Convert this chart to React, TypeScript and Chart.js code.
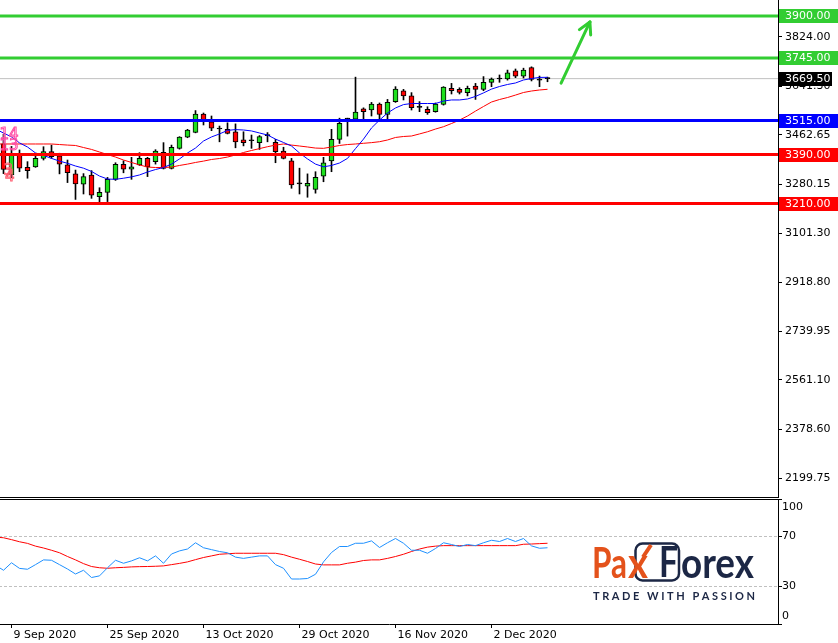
import React, { useEffect, useRef } from "react";
import { Chart, registerables } from "chart.js";

Chart.register(...registerables);

const FONT = "DejaVu Sans";

// ---------- data ----------
const dates = [
  "7 Sep 2020", "8 Sep 2020", "9 Sep 2020", "10 Sep 2020", "11 Sep 2020", "14 Sep 2020", "15 Sep 2020", "16 Sep 2020", "17 Sep 2020", "18 Sep 2020",
  "21 Sep 2020", "22 Sep 2020", "23 Sep 2020", "24 Sep 2020", "25 Sep 2020", "28 Sep 2020", "29 Sep 2020", "30 Sep 2020",
  "1 Oct 2020", "2 Oct 2020", "5 Oct 2020", "6 Oct 2020", "7 Oct 2020", "8 Oct 2020", "9 Oct 2020", "12 Oct 2020", "13 Oct 2020", "14 Oct 2020",
  "15 Oct 2020", "16 Oct 2020", "19 Oct 2020", "20 Oct 2020", "21 Oct 2020", "22 Oct 2020", "23 Oct 2020", "26 Oct 2020", "27 Oct 2020", "28 Oct 2020",
  "29 Oct 2020", "30 Oct 2020",
  "2 Nov 2020", "3 Nov 2020", "4 Nov 2020", "5 Nov 2020", "6 Nov 2020", "9 Nov 2020", "10 Nov 2020", "11 Nov 2020", "12 Nov 2020", "13 Nov 2020",
  "16 Nov 2020", "17 Nov 2020", "18 Nov 2020", "19 Nov 2020", "20 Nov 2020", "23 Nov 2020", "24 Nov 2020", "25 Nov 2020", "26 Nov 2020", "27 Nov 2020",
  "30 Nov 2020",
  "1 Dec 2020", "2 Dec 2020", "3 Dec 2020", "4 Dec 2020", "7 Dec 2020", "8 Dec 2020", "9 Dec 2020", "10 Dec 2020", "11 Dec 2020",
];

const opens = [
  3455, 3430, 3315, 3395, 3343, 3345, 3376, 3401, 3385, 3352,
  3319, 3281, 3315, 3235, 3251, 3299, 3354, 3336, 3352, 3376,
  3364, 3398, 3339, 3413, 3454, 3472, 3539, 3511, 3484, 3483,
  3474, 3444, 3441, 3434, 3460, 3435, 3403, 3367, 3282, 3274,
  3262, 3311, 3367, 3446, 3521, 3520, 3558, 3554, 3576, 3538,
  3585, 3625, 3606, 3564, 3557, 3548, 3575, 3634, 3630, 3618,
  3642, 3630, 3656, 3668, 3668, 3698, 3679, 3710, 3664, 3669.5,
];
const highs = [
  3480, 3465, 3420, 3407, 3364, 3395, 3419, 3425, 3395, 3370,
  3333, 3320, 3331, 3268, 3306, 3360, 3367, 3380, 3397, 3380,
  3408, 3434, 3425, 3456, 3483, 3552, 3543, 3532, 3495, 3507,
  3503, 3474, 3462, 3460, 3471, 3446, 3417, 3376, 3340, 3319,
  3327, 3380, 3483, 3524, 3524, 3675, 3562, 3582, 3580, 3593,
  3640, 3630, 3618, 3585, 3566, 3580, 3640, 3652, 3636, 3642,
  3652, 3677, 3672, 3683, 3701, 3705, 3708, 3713, 3679, 3675,
];
const lows = [
  3350, 3320, 3305, 3327, 3303, 3343, 3370, 3376, 3319, 3287,
  3225, 3245, 3229, 3211, 3217, 3295, 3323, 3299, 3350, 3309,
  3355, 3337, 3337, 3410, 3452, 3470, 3499, 3478, 3437, 3466,
  3415, 3422, 3413, 3409, 3437, 3360, 3374, 3266, 3245, 3233,
  3248, 3290, 3327, 3431, 3458, 3518, 3520, 3532, 3517, 3520,
  3582, 3591, 3554, 3548, 3538, 3546, 3572, 3613, 3613, 3606,
  3593, 3625, 3640, 3656, 3664, 3673, 3672, 3661, 3640, 3658,
];
const closes = [
  3430, 3335, 3395, 3340, 3331, 3376, 3401, 3382, 3355, 3323,
  3282, 3309, 3241, 3251, 3299, 3354, 3336, 3345, 3376, 3345,
  3403, 3339, 3417, 3454, 3480, 3539, 3517, 3487, 3484, 3468,
  3437, 3434, 3441, 3456, 3460, 3401, 3376, 3278, 3282, 3284,
  3306, 3360, 3446, 3505, 3521, 3546, 3548, 3576, 3538, 3582,
  3631, 3606, 3563, 3564, 3544, 3576, 3638, 3625, 3619, 3634,
  3630, 3656, 3668, 3668, 3691, 3679, 3701, 3667, 3664, 3669.5,
];

const maFast = [
  3484, 3469.5, 3455, 3433, 3418, 3396, 3387, 3376, 3366, 3358,
  3348, 3340, 3328, 3311, 3300, 3299, 3303, 3308, 3315, 3326,
  3335, 3342.5, 3355, 3374, 3396, 3414, 3440, 3455, 3466, 3479,
  3482, 3480.5, 3477, 3469.5, 3462, 3447, 3434.5, 3421.6, 3396, 3374,
  3355, 3345, 3350, 3359, 3376, 3412, 3447, 3488, 3517, 3543,
  3561.5, 3574, 3578, 3578, 3578, 3578, 3587, 3591, 3591, 3594.6,
  3604, 3617, 3631, 3640.6, 3648, 3653.5, 3664.5, 3670, 3674, 3674.4,
];
const maSlow = [
  3429, 3429, 3429, 3429, 3429, 3429, 3429, 3429, 3427, 3425,
  3423.5, 3416, 3409, 3399.5, 3390, 3381, 3370, 3361, 3352, 3344,
  3342.5, 3342.5, 3344, 3350, 3355, 3361, 3366, 3372, 3375.6, 3381,
  3388.5, 3397.7, 3405, 3412, 3419, 3425, 3429, 3425, 3421.6, 3418,
  3414, 3413, 3418, 3423.5, 3427, 3429, 3431.6, 3434, 3437.4, 3443.7,
  3453, 3456.6, 3458.4, 3466, 3474, 3484, 3492.6, 3504.4, 3517, 3532,
  3550, 3567, 3583.5, 3592.7, 3600, 3609, 3618.5, 3624, 3627.7, 3630.3,
];

const oscMain = [
  47, 43, 49, 44.5, 43.8, 47.5, 51.3, 51, 47.5, 44,
  40, 43, 37.2, 38.5, 45, 51, 48.6, 50.5, 53, 50.5,
  54.5, 48.6, 56, 58.5, 60, 65, 61, 59.5, 58, 57,
  53.5, 52.5, 53.5, 54.5, 54.5, 47.5, 44.6, 36, 36, 36.4,
  39.8, 49.7, 57.2, 62, 62, 64.6, 64.6, 66.5, 61.2, 65,
  68.4, 64.6, 59, 59, 56.6, 60.4, 65, 63.6, 62, 63.6,
  62.7, 65, 67, 66, 68.4, 66, 68.4, 62.5, 60.6, 61,
];
const oscSignal = [
  69.5, 69, 67.5, 65.8, 64.5, 62.3, 60.8, 59, 57, 54,
  51.3, 48.3, 46, 45, 44.6, 45, 45.3, 45.7, 45.9, 46,
  46.2, 46.5, 47.5, 48.5, 49.7, 51.5, 53.2, 54.5, 55.8, 56.2,
  56.6, 56.6, 56.6, 56.6, 56.6, 56.6, 55.5, 53.5, 51.8, 50,
  48, 47.3, 47.3, 47.3, 48.6, 49.5, 50.8, 51.3, 51.3, 52.5,
  54, 55.8, 58, 60, 61.5, 62.3, 62.7, 62.7, 62.7, 62.7,
  62.7, 62.7, 62.7, 62.7, 62.7, 62.7, 63.8, 64, 64.3, 64.6,
];

const priceTicks = [3824.0, 3641.3, 3462.65, 3280.15, 3101.3, 2918.8, 2739.95, 2561.1, 2378.6, 2199.75];
const levelPrices = [3900, 3745, 3515, 3390, 3210];
const levelColors = ["#32cd32", "#32cd32", "#0000ff", "#ff0000", "#ff0000"];
const bidPrice = 3669.5;
const dateTickLabels = ["9 Sep 2020", "25 Sep 2020", "13 Oct 2020", "29 Oct 2020", "16 Nov 2020", "2 Dec 2020"];
const oscTicks = [100, 70, 30, 0];
const oscLevels = [70, 30];
const arrowIdx = [70.7, 74.3];
const arrowPrice = [3653, 3878];
const annoTexts = ["14", "13", "3", "4"];
const annoIdx = [0.5, 0.5, 1.0, 1.2];
const annoPrice = [3490, 3448, 3356, 3334];

// ---------- layout constants ----------
const X_MIN = 0.5625;
const X_MAX = 97.8125;
const Y_MIN = 2126.24;
const Y_MAX = 3958.88;
const UP = "#1ee01e";
const DOWN = "#ff0000";
const ARROW = "#32cd32";
const LOWER_TOP = 498;

const idx = dates.map((_, i) => i);
const hline = (v: number) => [{ x: X_MIN - 2, y: v }, { x: X_MAX + 2, y: v }];

function fitText(ctx: CanvasRenderingContext2D, text: string, x: number, y: number, w: number, font: string, color: string) {
  ctx.save();
  ctx.font = font;
  const m = ctx.measureText(text).width;
  ctx.translate(x, y);
  ctx.scale(w / m, 1);
  ctx.fillStyle = color;
  ctx.textBaseline = "alphabetic";
  ctx.textAlign = "left";
  ctx.fillText(text, 0, 0);
  ctx.restore();
}

function spacedText(ctx: CanvasRenderingContext2D, text: string, x: number, y: number, w: number, font: string, color: string) {
  ctx.save();
  ctx.font = font;
  ctx.fillStyle = color;
  ctx.textBaseline = "alphabetic";
  ctx.textAlign = "left";
  const chars = text.split("");
  const widths = chars.map((c) => ctx.measureText(c).width);
  const total = widths.reduce((a, b) => a + b, 0);
  const gap = (w - total) / (chars.length - 1);
  let cx = x;
  chars.forEach((c, i) => {
    ctx.fillText(c, cx, y);
    cx += widths[i] + gap;
  });
  ctx.restore();
}

const topDecor = {
  id: "topDecor",
  afterDraw(chart: any) {
    const { ctx, chartArea, scales } = chart;
    const xs = scales.x;
    const ys = scales.y;
    ctx.save();
    // panel bottom frame
    ctx.strokeStyle = "#000";
    ctx.lineWidth = 1;
    ctx.beginPath();
    ctx.moveTo(0, chartArea.bottom - 0.5);
    ctx.lineTo(chartArea.right, chartArea.bottom - 0.5);
    ctx.stroke();

    // clipped wave labels at the left edge
    ctx.save();
    ctx.beginPath();
    ctx.rect(chartArea.left, chartArea.top, chartArea.right - chartArea.left, chartArea.bottom - chartArea.top);
    ctx.clip();
    ctx.font = `15px ${FONT}`;
    ctx.textBaseline = "top";
    ctx.textAlign = "left";
    ctx.lineWidth = 1;
    annoTexts.forEach((t, i) => {
      ctx.strokeStyle = i < 2 ? "#ff4da6" : "#ff5a6e";
      ctx.strokeText(t, xs.getPixelForValue(annoIdx[i]), ys.getPixelForValue(annoPrice[i]));
    });
    ctx.restore();

    // arrow head
    const x1 = xs.getPixelForValue(arrowIdx[0]);
    const y1 = ys.getPixelForValue(arrowPrice[0]);
    const x2 = xs.getPixelForValue(arrowIdx[1]);
    const y2 = ys.getPixelForValue(arrowPrice[1]);
    const ang = Math.atan2(y2 - y1, x2 - x1);
    ctx.strokeStyle = ARROW;
    ctx.lineWidth = 3;
    ctx.lineCap = "round";
    [-0.5, 0.5].forEach((d) => {
      ctx.beginPath();
      ctx.moveTo(x2, y2);
      ctx.lineTo(x2 - 13 * Math.cos(ang + d), y2 - 13 * Math.sin(ang + d));
      ctx.stroke();
    });

    // price boxes on the axis
    ctx.font = `11px ${FONT}`;
    ctx.textBaseline = "middle";
    ctx.textAlign = "left";
    levelPrices.forEach((p, i) => {
      const y = Math.round(ys.getPixelForValue(p));
      ctx.fillStyle = levelColors[i];
      ctx.fillRect(chartArea.right + 1, y - 7, 60, 14);
      ctx.fillStyle = "#fff";
      ctx.fillText(p.toFixed(2), chartArea.right + 7, y + 0.5);
    });
    const yb = Math.round(ys.getPixelForValue(bidPrice));
    ctx.fillStyle = "#000";
    ctx.fillRect(chartArea.right + 1, yb - 7, 53, 14);
    ctx.fillStyle = "#fff";
    ctx.fillText(bidPrice.toFixed(2), chartArea.right + 7, yb + 0.5);
    ctx.restore();
  },
};

const bottomDecor = {
  id: "bottomDecor",
  afterDraw(chart: any) {
    const { ctx, chartArea, scales } = chart;
    const ys = scales.y;
    ctx.save();
    ctx.strokeStyle = "#000";
    ctx.lineWidth = 1;
    ctx.beginPath();
    ctx.moveTo(0, chartArea.top + 0.5);
    ctx.lineTo(chartArea.right, chartArea.top + 0.5);
    ctx.stroke();

    // axis labels
    ctx.font = `11px ${FONT}`;
    ctx.fillStyle = "#000";
    ctx.textBaseline = "middle";
    ctx.textAlign = "left";
    oscTicks.forEach((v) => {
      let y = ys.getPixelForValue(v);
      if (v === 100) y += 8.5;
      if (v === 0) y -= 8;
      ctx.fillText(String(v), chartArea.right + 4, y);
    });

    // logo (page coordinates)
    ctx.translate(0, -LOWER_TOP);
    const ORANGE = "#e4521b";
    const NAVY = "#1c2745";
    const big = "bold 42px Lato";
    ctx.strokeStyle = NAVY;
    ctx.lineWidth = 2.5;
    ctx.beginPath();
    ctx.roundRect(635.5, 543.5, 43.5, 37, 7);
    ctx.stroke();
    fitText(ctx, "Pa", 592, 578, 35, big, ORANGE);
    fitText(ctx, "x", 628, 578, 20, big, ORANGE);
    ctx.strokeStyle = ORANGE;
    ctx.lineWidth = 4;
    ctx.lineCap = "butt";
    ctx.beginPath();
    ctx.moveTo(643, 557);
    ctx.lineTo(651, 545);
    ctx.stroke();
    fitText(ctx, "F", 659, 577, 19, big, NAVY);
    fitText(ctx, "orex", 681, 578, 73, big, NAVY);
    spacedText(ctx, "TRADE WITH PASSION", 593, 600, 162, "bold 11px Lato", NAVY);
    ctx.restore();
  },
};

function topConfig(): any {
  return {
    type: "bar",
    data: {
      datasets: [
        {
          type: "line",
          data: hline(bidPrice),
          borderColor: "#c0c0c0",
          borderWidth: 1,
          pointRadius: 0,
          order: 7,
        },
        {
          type: "bar",
          data: idx.map((i) => ({ x: i, y: [lows[i], highs[i]] })),
          backgroundColor: "#000",
          borderWidth: 0,
          barThickness: 1,
          grouped: false,
          order: 6,
        },
        {
          type: "bar",
          data: idx.map((i) => ({ x: i, y: [opens[i], closes[i]] })),
          backgroundColor: idx.map((i) => (closes[i] > opens[i] ? UP : closes[i] < opens[i] ? DOWN : "#000")),
          borderColor: "#000",
          borderWidth: 1,
          borderSkipped: false,
          barThickness: 5,
          minBarLength: 1,
          grouped: false,
          order: 5,
        },
        {
          type: "line",
          data: idx.map((i) => ({ x: i, y: maSlow[i] })),
          borderColor: "#ff0000",
          borderWidth: 1,
          pointRadius: 0,
          order: 4,
        },
        {
          type: "line",
          data: idx.map((i) => ({ x: i, y: maFast[i] })),
          borderColor: "#0000ff",
          borderWidth: 1,
          pointRadius: 0,
          order: 3,
        },
        ...levelPrices.map((p, i) => ({
          type: "line",
          data: hline(p),
          borderColor: levelColors[i],
          borderWidth: 3,
          pointRadius: 0,
          order: 1,
        })),
        {
          type: "line",
          data: [
            { x: arrowIdx[0], y: arrowPrice[0] },
            { x: arrowIdx[1], y: arrowPrice[1] },
          ],
          borderColor: ARROW,
          borderWidth: 3,
          borderCapStyle: "round",
          pointRadius: 0,
          order: 0,
        },
      ],
    },
    options: {
      animation: false,
      responsive: false,
      maintainAspectRatio: false,
      events: [],
      layout: { padding: 0, autoPadding: false },
      plugins: { legend: { display: false }, tooltip: { enabled: false } },
      scales: {
        x: {
          type: "linear",
          min: X_MIN,
          max: X_MAX,
          display: false,
          offset: false,
          grid: { offset: false },
        },
        y: {
          type: "linear",
          position: "right",
          min: Y_MIN,
          max: Y_MAX,
          beginAtZero: false,
          afterBuildTicks: (s: any) => {
            s.ticks = priceTicks.map((v) => ({ value: v }));
          },
          afterFit: (s: any) => {
            s.width = 60;
            s.paddingTop = 0;
            s.paddingBottom = 0;
          },
          ticks: {
            callback: (v: any) => Number(v).toFixed(2),
            color: "#000",
            font: { family: FONT, size: 11 },
            padding: 3,
            autoSkip: false,
          },
          grid: { drawOnChartArea: false, drawTicks: true, tickLength: 4, color: "#000" },
          border: { display: true, color: "#000", width: 1 },
        },
      },
    },
    plugins: [topDecor],
  };
}

function bottomConfig(): any {
  const tickIdx = dateTickLabels.map((d) => dates.indexOf(d));
  return {
    type: "line",
    data: {
      datasets: [
        ...oscLevels.map((v) => ({
          data: hline(v),
          borderColor: "#c0c0c0",
          borderWidth: 1,
          borderDash: [3, 2],
          pointRadius: 0,
          order: 3,
        })),
        {
          data: idx.map((i) => ({ x: i, y: oscSignal[i] })),
          borderColor: "#ff0000",
          borderWidth: 1,
          pointRadius: 0,
          order: 2,
        },
        {
          data: idx.map((i) => ({ x: i, y: oscMain[i] })),
          borderColor: "#1e90ff",
          borderWidth: 1,
          pointRadius: 0,
          order: 1,
        },
      ],
    },
    options: {
      animation: false,
      responsive: false,
      maintainAspectRatio: false,
      events: [],
      layout: { padding: { top: 1, left: 0, right: 0, bottom: 0 }, autoPadding: false },
      plugins: { legend: { display: false }, tooltip: { enabled: false } },
      scales: {
        x: {
          type: "linear",
          position: "bottom",
          min: X_MIN,
          max: X_MAX,
          offset: false,
          afterBuildTicks: (s: any) => {
            s.ticks = tickIdx.map((v) => ({ value: v }));
          },
          afterFit: (s: any) => {
            s.height = 19;
            s.paddingLeft = 0;
            s.paddingRight = 0;
          },
          ticks: {
            callback: (v: any) => dates[Math.round(Number(v))],
            align: "start",
            padding: 1,
            labelOffset: 2,
            maxRotation: 0,
            minRotation: 0,
            autoSkip: false,
            color: "#000",
            font: { family: FONT, size: 11 },
          },
          grid: { drawOnChartArea: false, drawTicks: true, tickLength: 4, color: "#000", offset: false },
          border: { display: true, color: "#000", width: 1 },
        },
        y: {
          type: "linear",
          position: "right",
          min: 0,
          max: 100,
          afterBuildTicks: (s: any) => {
            s.ticks = oscTicks.map((v) => ({ value: v }));
          },
          afterFit: (s: any) => {
            s.width = 60;
            s.paddingTop = 0;
            s.paddingBottom = 0;
          },
          ticks: { display: false },
          grid: { drawOnChartArea: false, drawTicks: true, tickLength: 4, color: "#000" },
          border: { display: true, color: "#000", width: 1 },
        },
      },
    },
    plugins: [bottomDecor],
  };
}

export default function App() {
  const topRef = useRef<HTMLCanvasElement>(null);
  const botRef = useRef<HTMLCanvasElement>(null);
  useEffect(() => {
    const top = new Chart(topRef.current as HTMLCanvasElement, topConfig());
    const bot = new Chart(botRef.current as HTMLCanvasElement, bottomConfig());
    return () => {
      top.destroy();
      bot.destroy();
    };
  }, []);
  return (
    <div
      style={{
        position: "absolute",
        left: 0,
        top: 0,
        width: 838,
        height: 643,
        background: "#fff",
        overflow: "hidden",
      }}
    >
      <canvas
        ref={topRef}
        width={838}
        height={498}
        style={{ position: "absolute", left: 0, top: 0, width: 838, height: 498 }}
      />
      <canvas
        ref={botRef}
        width={838}
        height={145}
        style={{ position: "absolute", left: 0, top: LOWER_TOP, width: 838, height: 145 }}
      />
    </div>
  );
}
